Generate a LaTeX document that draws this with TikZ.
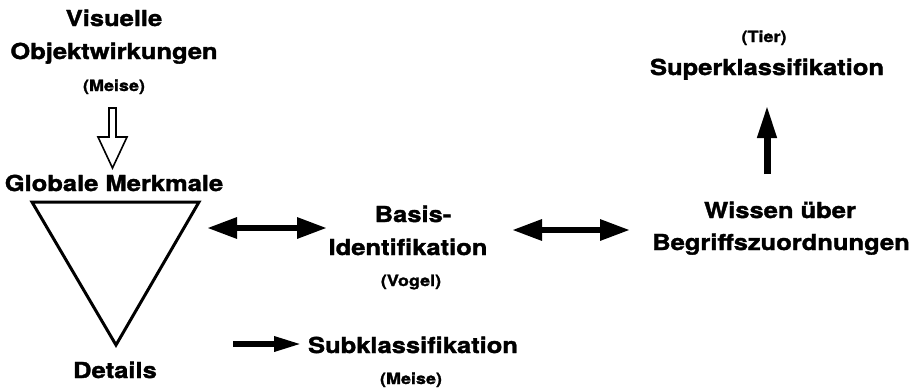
\documentclass[tikz,border=0pt]{standalone}
\usepackage{fontspec}
\setmainfont{TeX Gyre Heros}[FakeStretch=1.16,FakeBold=1.6]
\usetikzlibrary{arrows.meta}
\begin{document}
\begin{tikzpicture}[x=1pt,y=-1pt,
  lab/.style={anchor=base,inner sep=0pt,font=\fontsize{22}{24}\selectfont\bfseries},
  sml/.style={anchor=base,inner sep=0pt,font=\fontsize{15.5}{17}\selectfont\bfseries},
  dblarrow/.style={line width=6pt,{Triangle[length=30pt,width=20pt]}-{Triangle[length=30pt,width=20pt]}},
  sglarrow/.style={line width=6pt,-{Triangle[length=28pt,width=14pt]}},
  uparrow/.style={line width=7pt,-{Triangle[length=33pt,width=18pt]}},
  hollow/.style={draw,line width=1.6pt,fill=white,line join=miter},
  tri/.style={draw,line width=3pt,line join=miter}]
\useasboundingbox (0,0) rectangle (912,389);
% texts
\node[lab] (vis1) at (114,26) {Visuelle};
\node[lab] (vis2) at (114,59) {Objektwirkungen};
\node[sml] (meise1) at (114,91) {(Meise)};
\node[lab] (glob) at (114,191) {Globale Merkmale};
\node[lab] (det) at (115,378) {Details};
\node[lab] (basis) at (413,222) {Basis-};
\node[lab] (ident) at (408,255) {Identifikation};
\node[sml] (vogel) at (411,286) {(Vogel)};
\node[lab] (wissen) at (780,218) {Wissen über};
\node[lab] (begr) at (781,250) {Begriffszuordnungen};
\node[sml] (tier) at (764,42) {(Tier)};
\node[lab] (super) at (767,75) {Superklassifikation};
\node[lab] (sub) at (413,353) {Subklassifikation};
\node[sml] (meise2) at (411,384) {(Meise)};
% triangle
\coordinate (tA) at (32,202);
\coordinate (tB) at (199,202);
\coordinate (tC) at (116,345);
\draw[tri] (tA) -- (tB) -- (tC) -- cycle;
% hollow arrow
\draw[hollow] (109,108) -- (116,108) -- (116,137) -- (127,137) -- (112.5,168)
  -- (98,137) -- (109,137) -- cycle;
% arrows
\coordinate (l1) at (207,228);
\coordinate (l2) at (327,228);
\draw[dblarrow] (l1) -- (l2);
\coordinate (r1) at (512,230);
\coordinate (r2) at (630,230);
\draw[dblarrow] (r1) -- (r2);
\coordinate (u1) at (767,174);
\coordinate (u2) at (767,105);
\draw[uparrow] (u1) -- (u2);
\coordinate (s1) at (233,344);
\coordinate (s2) at (302,344);
\draw[sglarrow] (s1) -- (s2);
\end{tikzpicture}
\end{document}
